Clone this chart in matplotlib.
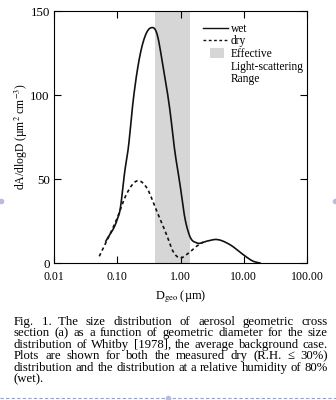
import matplotlib
matplotlib.use("Agg")
import matplotlib.pyplot as plt
import matplotlib.patches as mpatches
from matplotlib.lines import Line2D
from matplotlib.legend_handler import HandlerPatch
import numpy as np

# Data
wet_d = [0.066, 0.098, 0.11, 0.132, 0.149, 0.179, 0.227, 0.29, 0.34, 0.42, 0.53, 0.68,
         0.81, 0.98, 1.17, 1.4, 1.8, 2.6, 3.7, 6.0, 9.8, 14.2, 18.0]
wet_v = [13, 25, 31, 55, 68, 97, 123, 137, 140, 137, 117, 91,
         67, 47, 27, 16, 12, 13, 14, 11, 5, 1, 0]
dry_d = [0.052, 0.068, 0.098, 0.14, 0.215, 0.29, 0.42, 0.6, 0.76, 0.98, 1.25, 1.8, 2.3]
dry_v = [4, 13, 26, 41, 49, 45, 31, 17, 7, 3, 5, 10, 12.5]
band = [0.4, 1.4]
xticks = [0.01, 0.1, 1, 10, 100]
xticklabels = ["0.01", "0.10", "1.00", "10.00", "100.00"]
yticks = [0, 50, 100, 150]
caption_lines = [
    "Fig. 1.  The size distribution of aerosol geometric cross",
    "section (a) as a function of geometric diameter for the size",
    "distribution of Whitby [1978], the average background case.",
    "Plots are shown for both the measured dry (R.H. \u2264 30%)",
    "distribution and the distribution at a relative humidity of 80%",
    "(wet).",
]

plt.rcParams['font.family'] = ['Liberation Serif', 'DejaVu Serif']
plt.rcParams['mathtext.fontset'] = 'stix'

fig = plt.figure(figsize=(3.36, 4.0), dpi=100)
ax = fig.add_axes([54/336, 1-263/400, (307-54)/336, (263-11)/400])

band_color = '#d6d6d6'
ax.axvspan(band[0], band[1], color=band_color, lw=0, zorder=0)

def smooth(d, v, n=300):
    x = np.log10(d)
    y = np.asarray(v, float)
    xs = np.linspace(x[0], x[-1], n)
    m = np.gradient(y, x)
    idx = np.clip(np.searchsorted(x, xs) - 1, 0, len(x)-2)
    h = x[idx+1]-x[idx]
    t = (xs - x[idx]) / h
    h00 = 2*t**3-3*t**2+1; h10 = t**3-2*t**2+t; h01 = -2*t**3+3*t**2; h11 = t**3-t**2
    ys = h00*y[idx] + h10*h*m[idx] + h01*y[idx+1] + h11*h*m[idx+1]
    return 10**xs, np.clip(ys, 0, None)

wx, wy = smooth(wet_d, wet_v)
dx, dy = smooth(dry_d, dry_v)
ax.plot(wx, wy, color='#111111', lw=1.2, zorder=3)
ax.plot(dx, dy, color='#111111', lw=1.2, ls=(0, (2, 1.8)), zorder=3)

ax.set_xscale('log')
ax.set_xlim(0.01, 100)
ax.set_ylim(0, 150)
ax.set_xticks(xticks)
ax.set_xticklabels(xticklabels)
ax.set_yticks(yticks)
ax.minorticks_off()
ax.tick_params(direction='in', top=True, right=True, length=5, width=0.8)
ax.tick_params(axis='x', labelsize=8.6, pad=6)
ax.tick_params(axis='y', labelsize=9.4, pad=3)
for s in ax.spines.values():
    s.set_linewidth(0.8)

ax.set_ylabel('dA/dlogD (\u00b5m$^2$ cm$^{-3}$)', fontsize=8.4, labelpad=0)
ax.set_xlabel('D$_{\\rm geo}$ (\u00b5m)', fontsize=8.8, labelpad=4)

def patch_func(legend, orig_handle, xdescent, ydescent, width, height, fontsize):
    return mpatches.Rectangle((0.28*width - xdescent, -ydescent - 0.5), 0.55*width, height + 1)

blank = Line2D([], [], lw=0)
handles = [Line2D([], [], color='#111111', lw=1.0),
           Line2D([], [], color='#111111', lw=1.0, ls=(0, (2, 1.8))),
           mpatches.Patch(color=band_color, lw=0), blank, blank]
labels = ['wet', 'dry', 'Effective', 'Light-scattering', 'Range']
ax.legend(handles, labels, loc='upper right', bbox_to_anchor=(1.02, 0.985), frameon=False,
          fontsize=8.3, handlelength=2.2, handletextpad=0.25, labelspacing=0.05,
          borderaxespad=0.3, handler_map={mpatches.Patch: HandlerPatch(patch_func=patch_func)})

# justified caption
renderer = fig.canvas.get_renderer()
x_left, x_right = 14, 328
y0 = 325
cap_fs = 9.2
for i, line in enumerate(caption_lines):
    ypos = 1 - (y0 + i*11.4)/400
    if i == len(caption_lines) - 1:
        fig.text(x_left/336, ypos, line, fontsize=cap_fs, va='baseline', ha='left')
        continue
    words = line.split()
    if line.startswith("Fig. 1."):
        words = ["Fig.", "1.\u2002The"] + line.split()[3:]
    arts = [fig.text(0, ypos, w, fontsize=cap_fs, va='baseline', ha='left') for w in words]
    widths = [a.get_window_extent(renderer).width for a in arts]
    gap = (x_right - x_left - sum(widths)) / (len(words) - 1)
    xp = x_left
    for a, w in zip(arts, widths):
        a.set_x(xp/336)
        xp += w + gap

fig.add_artist(Line2D([0.0, 1.0], [1-397.5/400, 1-397.5/400], color='#9aa0c8',
                      lw=0.8, ls=(0, (3, 2)), transform=fig.transFigure))
for (px, py) in [(1, 201), (335, 201), (168, 397.5)]:
    fig.add_artist(Line2D([px/336], [1-py/400], marker='o', ms=3, color='#b8bce0',
                          lw=0, transform=fig.transFigure))

fig.savefig('out.png', dpi=100)
